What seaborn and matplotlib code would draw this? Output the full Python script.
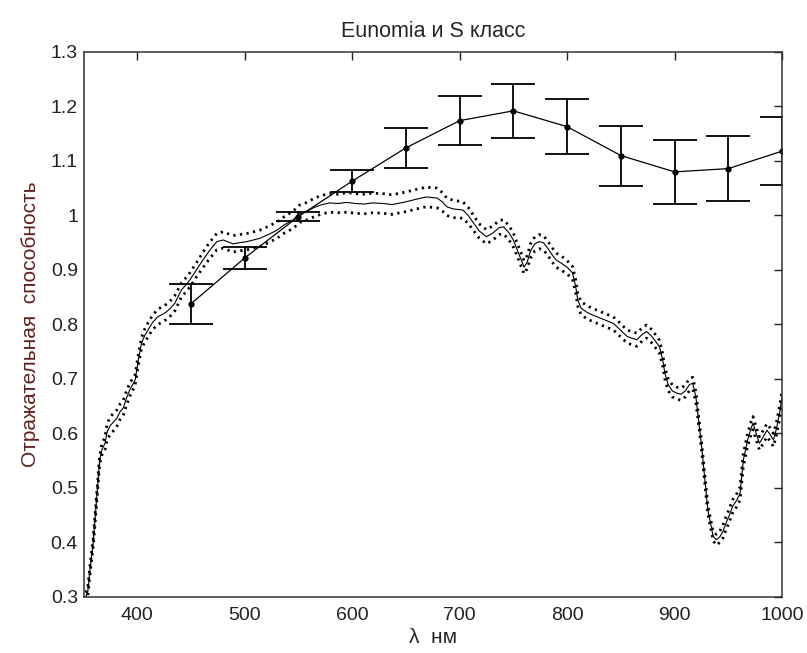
import numpy as np
import pandas as pd
import matplotlib
matplotlib.use('Agg')
from matplotlib import pyplot as plt
from matplotlib.ticker import FuncFormatter
import seaborn as sns

# spectrum of Eunomia (mean)
wl = [352, 354, 356, 359, 361, 363, 364, 365, 367, 370,
      372, 375, 377, 381, 384, 387, 390, 393, 398, 401,
      404, 407, 410, 414, 419, 423, 427, 431, 435, 441,
      445, 449, 455, 461, 467, 474, 480, 485, 489, 495,
      502, 508, 514, 522, 530, 537, 545, 551, 558, 565,
      572, 579, 587, 595, 603, 611, 619, 629, 637, 645,
      652, 660, 669, 679, 684, 688, 694, 703, 708, 712,
      718, 725, 731, 737, 741, 746, 750, 753, 757, 760,
      763, 766, 770, 774, 778, 782, 786, 790, 795, 800,
      805, 808, 810, 813, 818, 823, 828, 833, 838, 843,
      848, 852, 856, 860, 865, 870, 874, 878, 882, 886,
      889, 891, 894, 898, 902, 906, 910, 914, 917, 920,
      922, 925, 927, 929, 931, 934, 936, 939, 942, 945,
      948, 951, 954, 958, 961, 964, 968, 971, 973, 976,
      979, 982, 986, 989, 992, 995, 998, 1000]
refl = [0.300, 0.310, 0.350, 0.400, 0.450, 0.500, 0.527, 0.551, 0.570, 0.582,
        0.603, 0.615, 0.619, 0.628, 0.640, 0.647, 0.665, 0.680, 0.698, 0.735,
        0.766, 0.780, 0.790, 0.803, 0.814, 0.818, 0.823, 0.830, 0.839, 0.863,
        0.872, 0.882, 0.900, 0.918, 0.935, 0.952, 0.955, 0.951, 0.948, 0.950,
        0.952, 0.955, 0.958, 0.965, 0.973, 0.983, 0.992, 1.003, 1.008, 1.015,
        1.020, 1.023, 1.022, 1.024, 1.022, 1.021, 1.023, 1.022, 1.020, 1.023,
        1.026, 1.030, 1.034, 1.032, 1.025, 1.016, 1.012, 1.010, 1.000, 0.989,
        0.972, 0.961, 0.968, 0.978, 0.979, 0.968, 0.955, 0.940, 0.920, 0.905,
        0.915, 0.935, 0.948, 0.952, 0.950, 0.940, 0.928, 0.918, 0.912, 0.905,
        0.895, 0.870, 0.845, 0.830, 0.823, 0.818, 0.814, 0.810, 0.806, 0.802,
        0.793, 0.785, 0.778, 0.775, 0.772, 0.782, 0.787, 0.780, 0.770, 0.759,
        0.735, 0.711, 0.690, 0.678, 0.674, 0.672, 0.678, 0.690, 0.692, 0.665,
        0.631, 0.580, 0.539, 0.500, 0.460, 0.430, 0.411, 0.405, 0.410, 0.420,
        0.436, 0.450, 0.466, 0.478, 0.490, 0.551, 0.588, 0.608, 0.619, 0.600,
        0.582, 0.592, 0.606, 0.598, 0.588, 0.610, 0.640, 0.668]
# half width of the dotted envelope
spread = [0.008, 0.008, 0.008, 0.008, 0.008, 0.008, 0.008, 0.008, 0.010, 0.012,
          0.015, 0.016, 0.016, 0.015, 0.014, 0.014, 0.013, 0.012, 0.010, 0.010,
          0.010, 0.012, 0.013, 0.013, 0.014, 0.014, 0.014, 0.014, 0.014, 0.013,
          0.013, 0.013, 0.013, 0.014, 0.015, 0.015, 0.015, 0.015, 0.015, 0.015,
          0.015, 0.015, 0.015, 0.015, 0.015, 0.015, 0.016, 0.016, 0.016, 0.017,
          0.017, 0.017, 0.017, 0.018, 0.018, 0.018, 0.018, 0.018, 0.018, 0.018,
          0.018, 0.018, 0.018, 0.018, 0.017, 0.016, 0.016, 0.015, 0.015, 0.014,
          0.013, 0.013, 0.013, 0.013, 0.013, 0.013, 0.013, 0.012, 0.012, 0.012,
          0.012, 0.013, 0.013, 0.013, 0.013, 0.013, 0.013, 0.013, 0.013, 0.012,
          0.012, 0.012, 0.012, 0.012, 0.012, 0.012, 0.012, 0.012, 0.012, 0.012,
          0.012, 0.012, 0.012, 0.012, 0.012, 0.012, 0.012, 0.012, 0.012, 0.012,
          0.011, 0.011, 0.011, 0.011, 0.011, 0.011, 0.011, 0.011, 0.011, 0.010,
          0.008, 0.008, 0.008, 0.008, 0.008, 0.008, 0.008, 0.010, 0.010, 0.012,
          0.012, 0.012, 0.012, 0.012, 0.012, 0.012, 0.012, 0.012, 0.012, 0.012,
          0.012, 0.012, 0.012, 0.012, 0.012, 0.012, 0.012, 0.010]

# mean S class spectrum with error bars
s_wl = [450, 500, 550, 600, 650, 700, 750, 800, 850, 900, 950, 1000]
s_refl = [0.838, 0.922, 0.998, 1.063, 1.124, 1.174, 1.192, 1.163, 1.110, 1.080, 1.086, 1.118]
s_err = [0.037, 0.020, 0.008, 0.020, 0.036, 0.045, 0.049, 0.050, 0.055, 0.059, 0.060, 0.062]

spec = pd.DataFrame({'wl': wl, 'refl': refl, 'spread': spread})
spec['upper'] = spec['refl'] + spec['spread']
spec['lower'] = spec['refl'] - spec['spread']

sns.set_style('white')
plt.rcParams['font.family'] = ['Liberation Sans', 'DejaVu Sans']

fig = plt.figure(figsize=(8.07, 6.53), dpi=100)
ax = fig.add_axes([0.1035, 0.0858, 0.8655, 0.8346])

sns.lineplot(data=spec, x='wl', y='refl', ax=ax, color='black', lw=0.8,
             estimator=None, sort=False)
for col in ['upper', 'lower']:
    sns.lineplot(data=spec, x='wl', y=col, ax=ax, color='black', lw=2.0,
                 linestyle=(0, (0.8, 1.6)), estimator=None, sort=False)

ax.errorbar(s_wl, s_refl, yerr=s_err, color='black', lw=0.9, marker='o',
            markersize=3.5, capsize=15.5, capthick=1.3, elinewidth=1.3)

ax.set_xlim(350, 1000)
ax.set_ylim(0.3, 1.3)
ax.set_xticks([400, 500, 600, 700, 800, 900, 1000])
ax.set_yticks(np.arange(0.3, 1.31, 0.1))
ax.yaxis.set_major_formatter(FuncFormatter(lambda v, p: '%g' % round(v, 1)))
ax.tick_params(direction='in', length=6, width=1, top=True, right=True,
               labelsize=14, colors='#222222', pad=4)
ax.tick_params(axis='x', pad=7)
for s in ax.spines.values():
    s.set_color('#333333')
    s.set_linewidth(1.1)

ax.set_title('Eunomia и S класс', fontsize=15.5, pad=11)
ax.set_xlabel('λ  нм', fontsize=15, labelpad=3)
ax.set_ylabel('Отражательная  способность', fontsize=15, color='#602020', labelpad=8)

fig.savefig('out.png', dpi=100)
